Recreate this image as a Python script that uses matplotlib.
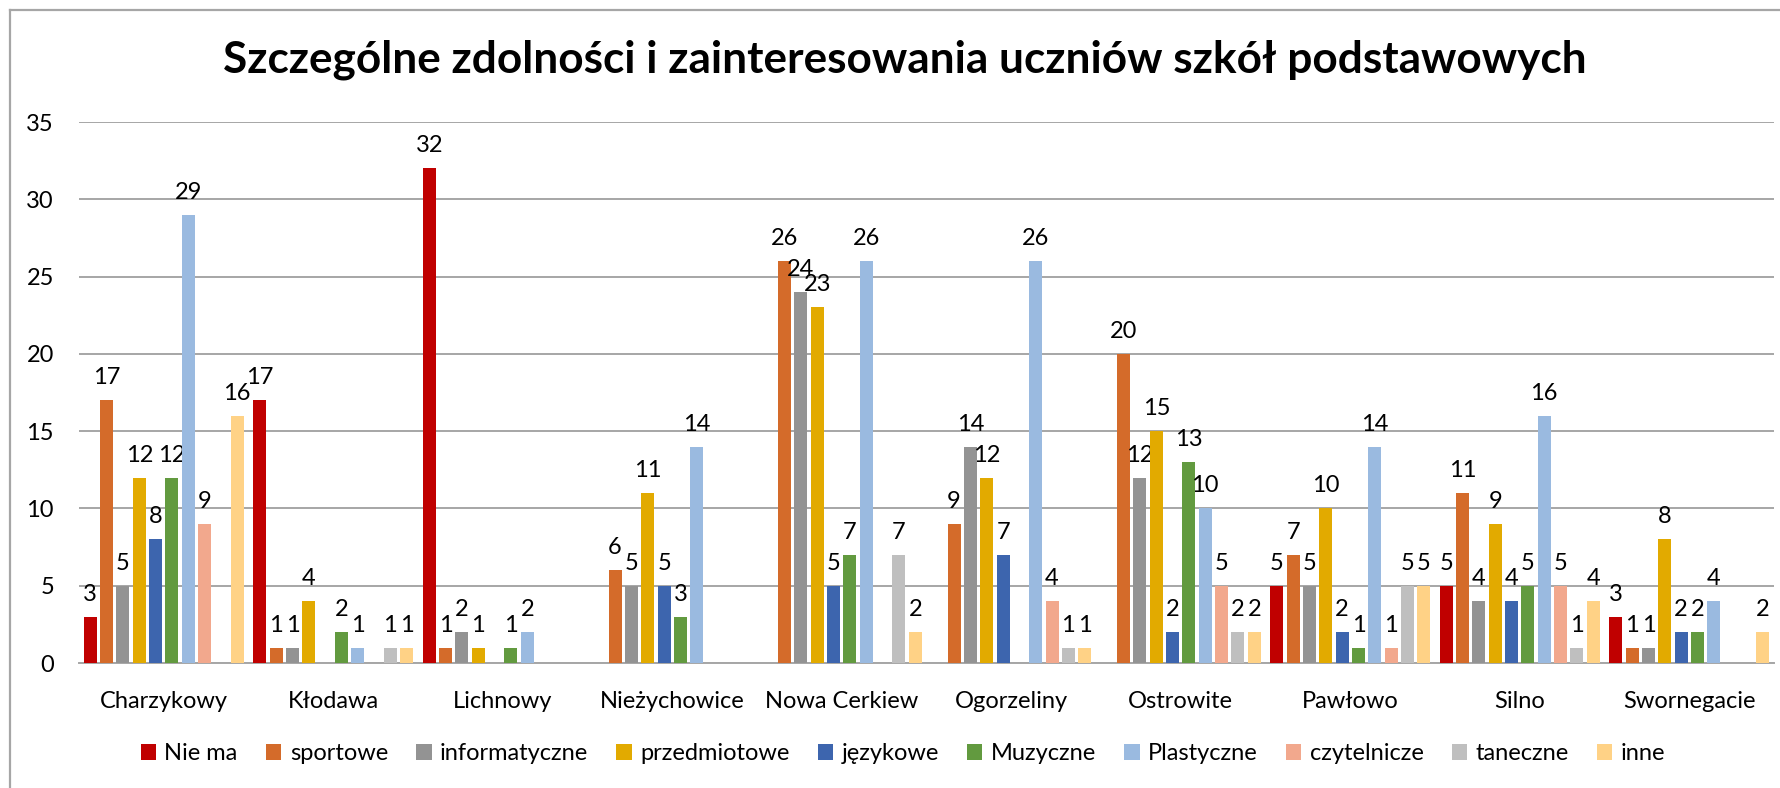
import numpy as np
import matplotlib
matplotlib.use('Agg')
import matplotlib.pyplot as plt
from matplotlib.lines import Line2D

plt.rcParams['font.family'] = ['Lato', 'DejaVu Sans']

# szkoły
schools = ['Charzykowy', 'Kłodawa', 'Lichnowy', 'Nieżychowice', 'Nowa Cerkiew',
           'Ogorzeliny', 'Ostrowite', 'Pawłowo', 'Silno', 'Swornegacie']

series = ['Nie ma', 'sportowe', 'informatyczne', 'przedmiotowe', 'językowe',
          'Muzyczne', 'Plastyczne', 'czytelnicze', 'taneczne', 'inne']

colors = ['#C00000', '#D46B2A', '#939393', '#E2AA00', '#3D65AE',
          '#629A3F', '#9ABAE0', '#F2A88D', '#BFBFBF', '#FFD286']

# puste komórki = brak wartości (nan)
nan = np.nan
nie_ma        = [3, 17, 32, nan, nan, nan, nan, 5, 5, 3]
sportowe      = [17, 1, 1, 6, 26, 9, 20, 7, 11, 1]
informatyczne = [5, 1, 2, 5, 24, 14, 12, 5, 4, 1]
przedmiotowe  = [12, 4, 1, 11, 23, 12, 15, 10, 9, 8]
jezykowe      = [8, nan, nan, 5, 5, 7, 2, 2, 4, 2]
muzyczne      = [12, 2, 1, 3, 7, nan, 13, 1, 5, 2]
plastyczne    = [29, 1, 2, 14, 26, 26, 10, 14, 16, 4]
czytelnicze   = [9, nan, nan, nan, nan, 4, 5, 1, 5, nan]
taneczne      = [nan, 1, nan, nan, 7, 1, 2, 5, 1, nan]
inne          = [16, 1, nan, nan, 2, 1, 2, 5, 4, 2]

values = [nie_ma, sportowe, informatyczne, przedmiotowe, jezykowe,
          muzyczne, plastyczne, czytelnicze, taneczne, inne]

fig = plt.figure(figsize=(17.8, 7.88), dpi=100)
ax = fig.add_axes([79 / 1780, 1 - 663 / 788, (1774 - 79) / 1780, (663 - 122) / 788])

x = np.arange(len(schools))
step = 0.0963
width = 0.0767
fs = 17

for i, (name, vals, col) in enumerate(zip(series, values, colors)):
    pos = x + (i - 4.5) * step
    v = np.array(vals, dtype=float)
    ax.bar(pos, np.nan_to_num(v), width, color=col, label=name, zorder=3)
    for xp, val in zip(pos, v):
        if not np.isnan(val):
            ax.annotate(f'{int(val)}', (xp, val), xytext=(0, 12),
                        textcoords='offset pixels', ha='center', va='bottom',
                        fontsize=fs, color='#000000')

ax.set_xlim(-0.5, len(schools) - 0.5)
ax.set_ylim(0, 35)
ax.set_yticks(range(0, 36, 5))
ax.yaxis.grid(True, color='#A6A6A6', linewidth=1.4, zorder=0)
ax.set_axisbelow(True)
ax.set_xticks(x)
ax.set_xticklabels(schools)
ax.tick_params(axis='both', length=0, labelsize=fs, colors='#000000')
ax.tick_params(axis='y', pad=18)
ax.tick_params(axis='x', pad=20)
for s in ['top', 'right', 'left']:
    ax.spines[s].set_visible(False)
ax.spines['bottom'].set_color('#A6A6A6')
ax.spines['bottom'].set_linewidth(1.4)

fig.suptitle('Szczególne zdolności i zainteresowania uczniów szkół podstawowych',
             x=905 / 1780, y=1 - 60 / 788, va='center', fontsize=31.8, fontweight='bold')

fig.legend(loc='center', bbox_to_anchor=(903 / 1780, 1 - 754 / 788), ncol=10,
           frameon=False, fontsize=fs, handlelength=0.65, handleheight=0.65,
           handletextpad=0.35, columnspacing=1.2)

# ramka wykresu
fig.add_artist(Line2D([10 / 1780, 10 / 1780], [0, 1 - 10 / 788], color='#A6A6A6', linewidth=1.6))
fig.add_artist(Line2D([10 / 1780, 1], [1 - 10 / 788, 1 - 10 / 788], color='#A6A6A6', linewidth=1.6))

fig.savefig('out.png', dpi=100)
